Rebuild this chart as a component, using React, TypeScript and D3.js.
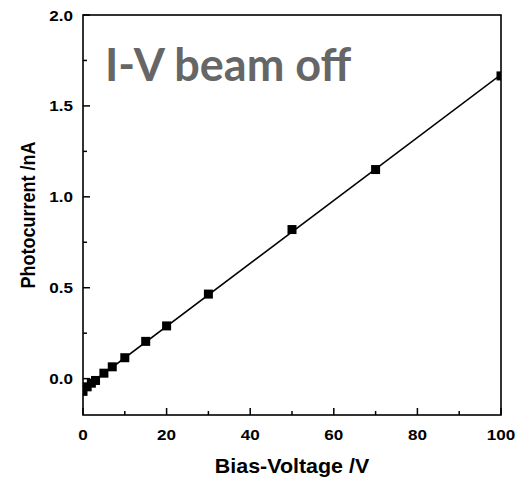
import React from "react";
import * as d3 from "d3";

const voltages = [0, 1, 2, 3, 5, 7, 10, 15, 20, 30, 50, 70, 100];
const currents = [-0.07, -0.045, -0.025, -0.01, 0.03, 0.065, 0.115, 0.205, 0.29, 0.465, 0.82, 1.15, 1.665];
const xTicks = [0, 20, 40, 60, 80, 100];
const xMinorTicks = [10, 30, 50, 70, 90];
const yTicks = [0, 0.5, 1.0, 1.5, 2.0];
const yMinorTicks = [0.25, 0.75, 1.25, 1.75];
const title = "I-V beam off";
const xLabel = "Bias-Voltage /V";
const yLabel = "Photocurrent /nA";

export default function App() {
  const W = 523, H = 482;
  const left = 83, right = 501, top = 15, bottom = 415;
  const x = d3.scaleLinear().domain([0, 100]).range([left, right]);
  const y = d3.scaleLinear().domain([-0.2, 2.0]).range([bottom, top]);

  // linear fit
  const n = voltages.length;
  const mx = d3.mean(voltages)!;
  const my = d3.mean(currents)!;
  let sxy = 0, sxx = 0;
  for (let i = 0; i < n; i++) {
    sxy += (voltages[i] - mx) * (currents[i] - my);
    sxx += (voltages[i] - mx) ** 2;
  }
  const slope = sxy / sxx;
  const icpt = my - slope * mx;
  const fitLine = d3.line<number>().x((v) => x(v)).y((v) => y(icpt + slope * v));

  const font = "'Liberation Sans', Arial, sans-serif";
  const ms = 9;
  const sx = 1.1;

  return (
    <svg width={W} height={H} style={{ position: "absolute", left: 0, top: 0, background: "#fff" }}>
      <defs>
        <clipPath id="plotclip">
          <rect x={left} y={top} width={right - left} height={bottom - top} />
        </clipPath>
      </defs>
      <rect x={0} y={0} width={W} height={H} fill="#fff" />
      <text x={105} y={81} fontFamily="Lato, 'Open Sans', sans-serif" fontWeight="bold" fontSize={45} fill="#666">
        {title}
      </text>
      <g clipPath="url(#plotclip)">
        <path d={fitLine([0, 100]) || ""} stroke="#000" strokeWidth={1.6} fill="none" />
        {voltages.map((v, i) => (
          <rect key={i} x={x(v) - ms / 2} y={y(currents[i]) - ms / 2} width={ms} height={ms} fill="#000" />
        ))}
      </g>
      <rect x={left} y={top} width={right - left} height={bottom - top} fill="none" stroke="#000" strokeWidth={1.6} />
      {xTicks.map((t) => (
        <g key={"xt" + t}>
          <line x1={x(t)} x2={x(t)} y1={bottom} y2={bottom - 7} stroke="#000" strokeWidth={1.5} />
          <text
            transform={`translate(${x(t)}, 440) scale(${sx}, 1)`}
            textAnchor="middle"
            fontFamily={font}
            fontWeight="bold"
            fontSize={15.5}
          >
            {t}
          </text>
        </g>
      ))}
      {xMinorTicks.map((t) => (
        <line key={"xm" + t} x1={x(t)} x2={x(t)} y1={bottom} y2={bottom - 4} stroke="#000" strokeWidth={1.5} />
      ))}
      {yTicks.map((t) => (
        <g key={"yt" + t}>
          <line x1={left} x2={left + 7} y1={y(t)} y2={y(t)} stroke="#000" strokeWidth={1.5} />
          <text
            transform={`translate(73, ${y(t) + 5.5}) scale(${sx}, 1)`}
            textAnchor="end"
            fontFamily={font}
            fontWeight="bold"
            fontSize={15.5}
          >
            {t.toFixed(1)}
          </text>
        </g>
      ))}
      {yMinorTicks.map((t) => (
        <line key={"ym" + t} x1={left} x2={left + 4} y1={y(t)} y2={y(t)} stroke="#000" strokeWidth={1.5} />
      ))}
      <text
        transform={`translate(292, 473) scale(${sx}, 1)`}
        textAnchor="middle"
        fontFamily={font}
        fontWeight="bold"
        fontSize={19.5}
      >
        {xLabel}
      </text>
      <text
        transform={`translate(35, 215) scale(${sx}, 1) rotate(-90)`}
        textAnchor="middle"
        fontFamily={font}
        fontWeight="bold"
        fontSize={18}
      >
        {yLabel}
      </text>
    </svg>
  );
}
